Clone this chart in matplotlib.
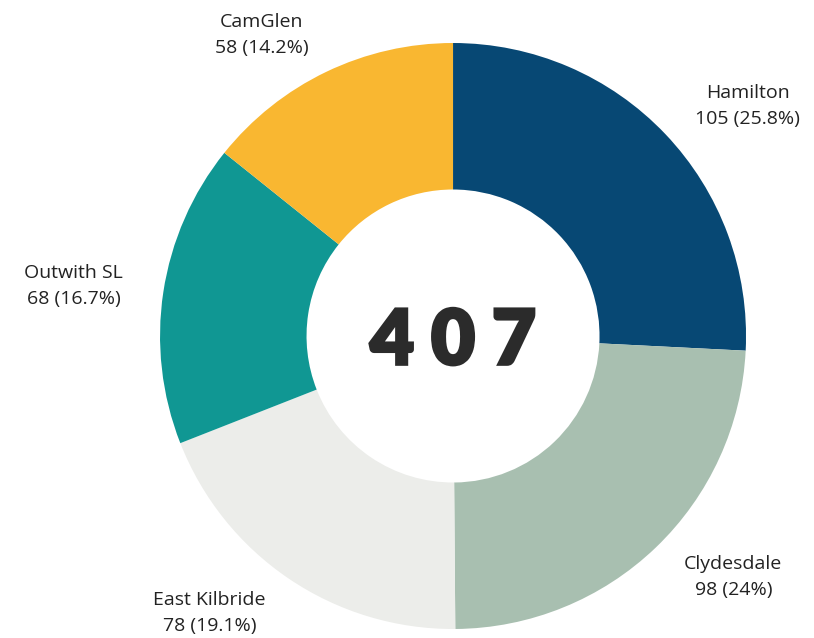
import matplotlib.pyplot as plt
import matplotlib.patheffects as pe

# Referrals by area
areas = ['Hamilton', 'Clydesdale', 'East Kilbride', 'Outwith SL', 'CamGlen']
counts = [105, 98, 78, 68, 58]
pct_labels = ['25.8%', '24%', '19.1%', '16.7%', '14.2%']
colors = ['#074874', '#a8bfb0', '#ecedea', '#109793', '#f9b731']

total = sum(counts)
labels = [f'{a}\n{c} ({p})' for a, c, p in zip(areas, counts, pct_labels)]

fig = plt.figure(figsize=(8.14, 6.38), dpi=100)
ax = fig.add_axes([0.1966, 0.0141, 0.7199, 0.9185])

ax.pie(counts, labels=labels, colors=colors, startangle=90, counterclock=False,
       radius=1, labeldistance=1.14,
       wedgeprops=dict(width=0.5, linewidth=0),
       textprops=dict(fontsize=14, color='#222222', family='Open Sans',
                      multialignment='center', linespacing=1.6))

# total in the middle, letter-spaced
digits = str(total)
step = 0.208
for i, ch in enumerate(digits):
    x = (i - (len(digits) - 1) / 2) * step
    ax.text(x, -0.022, ch, ha='center', va='center', fontsize=55,
            fontweight='heavy', family='Lato', color='#2b2b2b',
            path_effects=[pe.withStroke(linewidth=2, foreground='#2b2b2b',
                                        joinstyle='miter')])

ax.set_xlim(-1, 1)
ax.set_ylim(-1, 1)
ax.axis('off')

fig.savefig('out.png', dpi=100)
